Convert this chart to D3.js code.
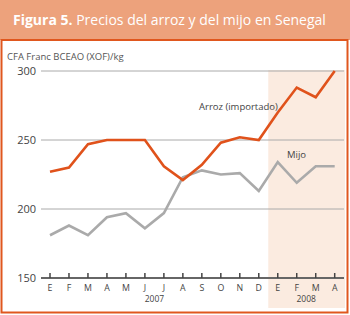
<!DOCTYPE html>
<html><head><meta charset="utf-8">
<script src="https://cdn.jsdelivr.net/npm/d3@7"></script>
<style>body{margin:0;background:#fff}svg{display:block;font-family:"Open Sans",sans-serif}</style>
</head><body><svg id="c" width="350" height="315"></svg>
<script>
const months = ["E","F","M","A","M","J","J","A","S","O","N","D","E","F","M","A"];
const arroz = [227,230,247,250,250,250,231,221,232,248,252,250,270,288,281,300];
const mijo  = [181,188,181,194,197,186,197,223,228,225,226,213,234,219,231,231];
const yTicks = [150,200,250,300];
const years = [{label:"2007",from:0,to:11},{label:"2008",from:12,to:15}];

const svg = d3.select("#c");
svg.append("rect").attr("x",0).attr("y",0).attr("width",350).attr("height",40).attr("fill","#eda27c");
svg.append("rect").attr("x",1.5).attr("y",40).attr("width",346).attr("height",272.5).attr("fill","#fff").attr("stroke","#e0571e").attr("stroke-width",2);
const t = svg.append("text").attr("x",13).attr("y",25).attr("fill","#fff").attr("font-size",14);
t.append("tspan").attr("font-weight","bold").text("Figura 5.");
t.append("tspan").text(" Precios del arroz y del mijo en Senegal");

const x = d3.scalePoint().domain(d3.range(months.length)).range([50,334.7]);
const y = d3.scaleLinear().domain([150,300]).range([278,71]);

// shaded 2008 region
const sx = (x(11)+x(12))/2;
svg.append("rect").attr("x",sx).attr("y",70).attr("width",345-sx).attr("height",238).attr("fill","#fbebe0");

svg.append("text").attr("x",7).attr("y",60).attr("font-size",9.5).attr("fill","#555").text("CFA Franc BCEAO (XOF)/kg");

// grid
const g = svg.append("g");
g.selectAll("line.grid").data(yTicks.filter(d=>d>150)).join("line")
  .attr("x1",41).attr("x2",344).attr("y1",d=>y(d)).attr("y2",d=>y(d)).attr("stroke","#aaa").attr("stroke-width",1);
g.selectAll("text.yl").data(yTicks).join("text")
  .attr("x",36).attr("y",d=>y(d)+4).attr("text-anchor","end").attr("font-size",11).attr("fill","#444").text(d=>d);

// axis
svg.append("line").attr("x1",41).attr("x2",344).attr("y1",y(150)).attr("y2",y(150)).attr("stroke","#666").attr("stroke-width",1.8);
svg.selectAll("line.tk").data(months).join("line")
  .attr("x1",(d,i)=>x(i)).attr("x2",(d,i)=>x(i)).attr("y1",y(150)-5).attr("y2",y(150)).attr("stroke","#444").attr("stroke-width",1.5);
svg.selectAll("text.m").data(months).join("text")
  .attr("x",(d,i)=>x(i)).attr("y",291).attr("text-anchor","middle").attr("font-size",8.8).attr("fill","#444").text(d=>d);
svg.selectAll("text.yr").data(years).join("text")
  .attr("x",d=>(x(d.from)+x(d.to))/2).attr("y",302).attr("text-anchor","middle").attr("font-size",8.5).attr("fill","#444").text(d=>d.label);

const line = d3.line().x((d,i)=>x(i)).y(d=>y(d));
svg.append("path").datum(mijo).attr("d",line).attr("fill","none").attr("stroke","#aaaaaa").attr("stroke-width",2.6).attr("stroke-linejoin","miter");
svg.append("path").datum(arroz).attr("d",line).attr("fill","none").attr("stroke","#e0521b").attr("stroke-width",2.6).attr("stroke-linejoin","miter");

svg.append("text").attr("x",199).attr("y",110).attr("font-size",9.5).attr("fill","#444").text("Arroz (importado)");
svg.append("text").attr("x",287).attr("y",158).attr("font-size",9.5).attr("fill","#444").text("Mijo");
</script></body></html>
